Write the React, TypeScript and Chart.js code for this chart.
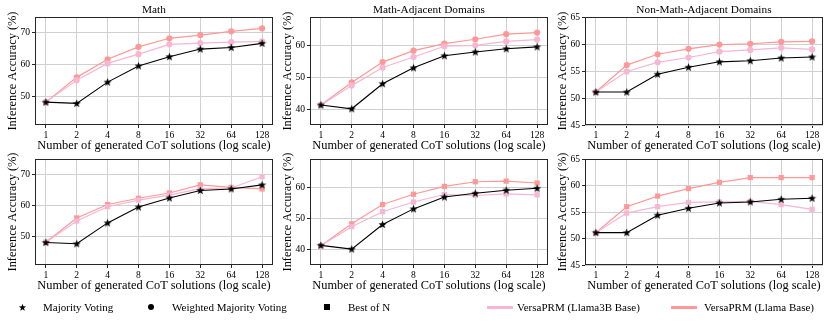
import React, { useEffect, useRef } from "react";
import { Chart, registerables } from "chart.js";

Chart.register(...registerables);

const FONT = "'Liberation Serif', 'Times New Roman', serif";

// ---------- data ----------
const nSolutions = [1, 2, 4, 8, 16, 32, 64, 128];

const majorityMath = [48.2, 47.8, 54.5, 59.6, 62.5, 64.9, 65.4, 66.7];
const wmvLlama3bMath = [48.2, 55.1, 60.4, 63.3, 66.4, 66.8, 67.1, 67.3];
const wmvLlamaMath = [48.2, 56.0, 61.7, 65.6, 68.3, 69.3, 70.5, 71.4];
const bonLlama3bMath = [48.2, 55.1, 59.7, 61.8, 63.4, 65.5, 65.7, 69.3];
const bonLlamaMath = [48.3, 56.1, 60.4, 62.4, 64.1, 66.7, 65.9, 65.4];

const majorityAdj = [41.3, 40.1, 48.0, 53.0, 56.8, 58.0, 59.0, 59.6];
const wmvLlama3bAdj = [41.2, 47.4, 53.1, 56.4, 59.8, 60.1, 61.3, 61.9];
const wmvLlamaAdj = [41.3, 48.4, 54.8, 58.4, 60.6, 62.0, 63.6, 64.1];
const bonLlama3bAdj = [41.2, 47.3, 52.1, 55.2, 57.6, 57.3, 57.8, 57.5];
const bonLlamaAdj = [41.2, 48.2, 54.4, 57.7, 60.2, 61.7, 61.9, 61.3];

const majorityNon = [51.1, 51.1, 54.4, 55.7, 56.7, 56.9, 57.4, 57.6];
const wmvLlama3bNon = [51.1, 54.9, 56.6, 57.5, 58.6, 58.9, 59.3, 59.0];
const wmvLlamaNon = [51.1, 56.1, 58.1, 59.1, 59.9, 60.05, 60.4, 60.5];
const bonLlama3bNon = [51.1, 54.8, 56.0, 56.8, 56.9, 57.0, 56.4, 55.5];
const bonLlamaNon = [51.1, 56.0, 58.0, 59.4, 60.6, 61.5, 61.5, 61.5];

const titles = ["Math", "Math-Adjacent Domains", "Non-Math-Adjacent Domains"];
const yTicksMath = [50, 60, 70];
const yTicksAdj = [40, 50, 60];
const yTicksNon = [45, 50, 55, 60, 65];
const yRangeMath = [41, 75];
const yRangeAdj = [35, 69];
const yRangeNon = [45, 65];

const xLabel = "Number of generated CoT solutions (log scale)";
const yLabel = "Inference Accuracy (%)";
const legendLabels = [
  "Majority Voting",
  "Weighted Majority Voting",
  "Best of N",
  "VersaPRM (Llama3B Base)",
  "VersaPRM (Llama Base)",
];

const COLOR_3B = "#f7b6d2";
const COLOR_LLAMA = "#ff9896";

function makeStar(size: number, color: string) {
  const c = document.createElement("canvas");
  c.width = size;
  c.height = size;
  const ctx = c.getContext("2d")!;
  const cx = size / 2;
  const cy = size / 2 + 0.3;
  const R = size / 2 - 0.2;
  const r = R * 0.42;
  ctx.beginPath();
  for (let i = 0; i < 10; i++) {
    const rad = i % 2 === 0 ? R : r;
    const a = -Math.PI / 2 + (i * Math.PI) / 5;
    ctx.lineTo(cx + rad * Math.cos(a), cy + rad * Math.sin(a));
  }
  ctx.closePath();
  ctx.fillStyle = color;
  ctx.fill();
  return c;
}

const framePlugin = {
  id: "frame",
  afterDatasetsDraw(chart: any) {
    const { ctx, chartArea } = chart;
    const { left, top, right, bottom } = chartArea;
    ctx.save();
    ctx.strokeStyle = "#262626";
    ctx.lineWidth = 1;
    ctx.strokeRect(Math.round(left) + 0.5, Math.round(top) + 0.5, Math.round(right - left) - 1, Math.round(bottom - top) - 1);
    ctx.restore();
  },
};

type PanelProps = {
  left: number;
  top: number;
  width: number;
  height: number;
  title: string | null;
  majority: number[];
  s3b: number[];
  sLlama: number[];
  marker: "circle" | "rect";
  yRange: number[];
  yTicks: number[];
};

function Panel(p: PanelProps) {
  const ref = useRef<HTMLCanvasElement | null>(null);
  useEffect(() => {
    const canvas = ref.current!;
    const star = makeStar(9, "#000");
    const pts = (vals: number[]) => nSolutions.map((n, i) => ({ x: n, y: vals[i] }));
    const markerRadius = p.marker === "circle" ? 3.1 : 3.7;
    const chart = new Chart(canvas, {
      type: "line",
      data: {
        datasets: [
          {
            label: legendLabels[0],
            data: pts(p.majority),
            borderColor: "#000",
            backgroundColor: "#000",
            borderWidth: 1.1,
            pointStyle: star as any,
            pointRadius: 3.5,
            order: 0,
          },
          {
            label: legendLabels[4],
            data: pts(p.sLlama),
            borderColor: COLOR_LLAMA,
            backgroundColor: COLOR_LLAMA,
            borderWidth: 1.2,
            pointStyle: p.marker,
            pointRadius: markerRadius,
            pointBorderWidth: 0,
            order: 2,
          },
          {
            label: legendLabels[3],
            data: pts(p.s3b),
            borderColor: COLOR_3B,
            backgroundColor: COLOR_3B,
            borderWidth: 1.2,
            pointStyle: p.marker,
            pointRadius: markerRadius,
            pointBorderWidth: 0,
            order: 1,
          },
        ],
      },
      options: {
        animation: false,
        responsive: false,
        maintainAspectRatio: false,
        layout: { padding: { top: p.title ? 0 : 17, right: 5, left: 0, bottom: 0 } },
        plugins: {
          legend: { display: false },
          tooltip: { enabled: false },
          title: {
            display: !!p.title,
            text: p.title || "",
            fullSize: false,
            color: "#000",
            font: { family: FONT, size: 11.3, weight: "normal" },
            padding: { top: 3, bottom: 0.45 },
          },
        },
        scales: {
          x: {
            type: "logarithmic",
            min: Math.pow(2, -0.35),
            max: Math.pow(2, 7.35),
            afterBuildTicks: (scale: any) => {
              scale.ticks = nSolutions.map((v) => ({ value: v }));
            },
            afterFit: (scale: any) => {
              scale.height = 28;
            },
            ticks: {
              color: "#000",
              font: { family: FONT, size: 9.6 },
              padding: 2,
              maxRotation: 0,
              autoSkip: false,
              callback: (v: any) => String(v),
            },
            grid: { color: "#d0d0d0", lineWidth: 1, drawTicks: true, tickLength: 3, tickColor: "#262626" },
            border: { display: false },
            title: {
              display: true,
              text: xLabel,
              color: "#000",
              font: { family: FONT, size: 12.4 },
              padding: { top: 0, bottom: 0 },
            },
          },
          y: {
            type: "linear",
            min: p.yRange[0],
            max: p.yRange[1],
            afterBuildTicks: (scale: any) => {
              scale.ticks = p.yTicks.map((v) => ({ value: v }));
            },
            afterFit: (scale: any) => {
              scale.width = 35;
            },
            ticks: {
              color: "#000",
              font: { family: FONT, size: 9.6 },
              padding: 2,
              callback: (v: any) => String(v),
            },
            grid: { color: "#d0d0d0", lineWidth: 1, drawTicks: true, tickLength: 3, tickColor: "#262626" },
            border: { display: false },
            title: {
              display: true,
              text: yLabel,
              color: "#000",
              font: { family: FONT, size: 12.4 },
              padding: { top: 5, bottom: 0 },
            },
          },
        },
      } as any,
      plugins: [framePlugin],
    });
    return () => chart.destroy();
  }, []);
  return (
    <canvas
      ref={ref}
      width={p.width}
      height={p.height}
      style={{ position: "absolute", left: p.left, top: p.top, width: p.width, height: p.height }}
    />
  );
}

function LegendStar() {
  const R = 3.8;
  const r = R * 0.42;
  const pts: string[] = [];
  for (let i = 0; i < 10; i++) {
    const rad = i % 2 === 0 ? R : r;
    const a = -Math.PI / 2 + (i * Math.PI) / 5;
    pts.push(`${4.5 + rad * Math.cos(a)},${4.6 + rad * Math.sin(a)}`);
  }
  return (
    <svg width={9} height={9} style={{ position: "absolute", left: 17.5, top: 302.5 }}>
      <polygon points={pts.join(" ")} fill="#000" />
    </svg>
  );
}

export default function App() {
  const colL = [0, 275, 550];
  const rows = [
    { top: 0, height: 153, titled: true, marker: "circle" as const },
    { top: 142, height: 151, titled: false, marker: "rect" as const },
  ];
  const panelData = [
    {
      majority: majorityMath,
      wmv: [wmvLlama3bMath, wmvLlamaMath],
      bon: [bonLlama3bMath, bonLlamaMath],
      yRange: yRangeMath,
      yTicks: yTicksMath,
    },
    {
      majority: majorityAdj,
      wmv: [wmvLlama3bAdj, wmvLlamaAdj],
      bon: [bonLlama3bAdj, bonLlamaAdj],
      yRange: yRangeAdj,
      yTicks: yTicksAdj,
    },
    {
      majority: majorityNon,
      wmv: [wmvLlama3bNon, wmvLlamaNon],
      bon: [bonLlama3bNon, bonLlamaNon],
      yRange: yRangeNon,
      yTicks: yTicksNon,
    },
  ];
  const textStyle: React.CSSProperties = {
    position: "absolute",
    top: 300,
    height: 14,
    lineHeight: "14px",
    fontFamily: FONT,
    fontSize: 11,
    color: "#000",
    whiteSpace: "nowrap",
  };
  return (
    <div
      style={{
        position: "absolute",
        left: 0,
        top: 0,
        width: 830,
        height: 332,
        background: "#fff",
        overflow: "hidden",
      }}
    >
      {rows.map((row, ri) =>
        panelData.map((pd, ci) => (
          <Panel
            key={`${ri}-${ci}`}
            left={colL[ci]}
            top={row.top}
            width={278}
            height={row.height}
            title={row.titled ? titles[ci] : null}
            majority={pd.majority}
            s3b={ri === 0 ? pd.wmv[0] : pd.bon[0]}
            sLlama={ri === 0 ? pd.wmv[1] : pd.bon[1]}
            marker={row.marker}
            yRange={pd.yRange}
            yTicks={pd.yTicks}
          />
        ))
      )}
      <LegendStar />
      <span style={{ ...textStyle, left: 43 }}>{legendLabels[0]}</span>
      <div
        style={{ position: "absolute", left: 148, top: 304, width: 6, height: 6, borderRadius: "50%", background: "#000" }}
      />
      <span style={{ ...textStyle, left: 172 }}>{legendLabels[1]}</span>
      <div style={{ position: "absolute", left: 324, top: 304, width: 6, height: 6, background: "#000" }} />
      <span style={{ ...textStyle, left: 348 }}>{legendLabels[2]}</span>
      <div style={{ position: "absolute", left: 487, top: 305.5, width: 26, height: 3, background: COLOR_3B }} />
      <span style={{ ...textStyle, left: 517 }}>{legendLabels[3]}</span>
      <div style={{ position: "absolute", left: 671, top: 305.5, width: 26, height: 3, background: COLOR_LLAMA }} />
      <span style={{ ...textStyle, left: 704 }}>{legendLabels[4]}</span>
    </div>
  );
}
